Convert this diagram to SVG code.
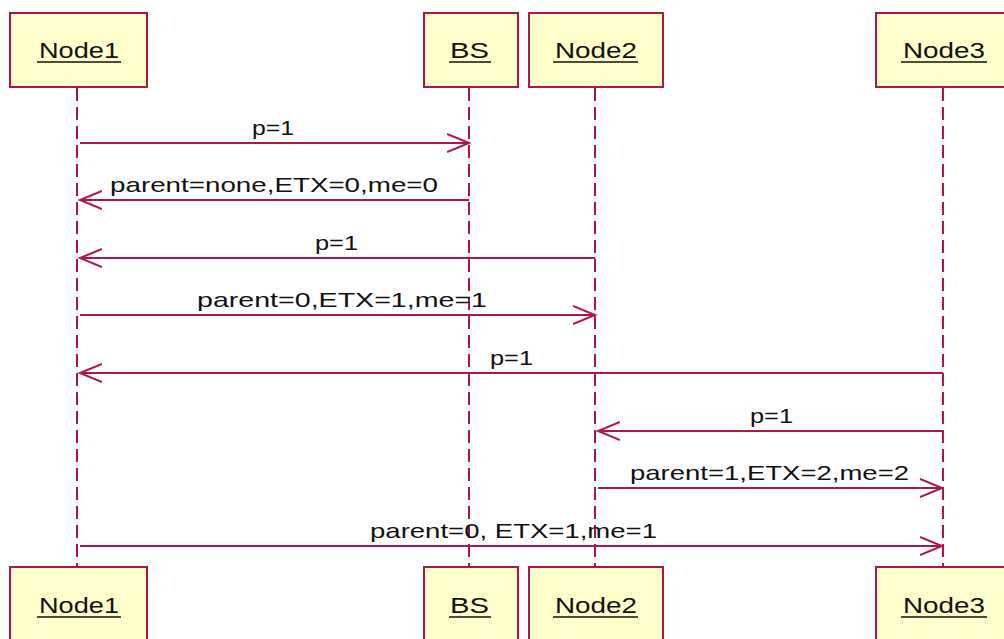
<svg xmlns="http://www.w3.org/2000/svg" width="1004" height="639" viewBox="0 0 1004 639">
<defs>
<style>
.box{fill:#FFFFCC;stroke:#B0154A;stroke-width:2}
.life{stroke:#B0154A;stroke-width:2;stroke-dasharray:13 6;fill:none}
.msg{stroke:#B0154A;stroke-width:2;fill:none;marker-end:url(#arr)}
.lbl{font-family:"Liberation Sans",Arial,sans-serif;font-size:22px;fill:#111111}
.mt{font-family:"Liberation Sans",Arial,sans-serif;font-size:21px;fill:#111111}
.ul{stroke:#111111;stroke-width:1.6}
</style>
<marker id="arr" markerUnits="userSpaceOnUse" markerWidth="26" markerHeight="22" refX="22" refY="10" orient="auto" viewBox="0 0 26 22">
<path d="M0,1 L22,10 L0,19" fill="none" stroke="#B0154A" stroke-width="2"/>
</marker>
</defs>
<rect width="1004" height="639" fill="#ffffff"/>
<g id="lifelines">
<line class="life" x1="77" y1="88" x2="77" y2="567"/>
<line class="life" x1="469" y1="88" x2="469" y2="567"/>
<line class="life" x1="595" y1="88" x2="595" y2="567"/>
<line class="life" x1="943" y1="88" x2="943" y2="567"/>
</g>
<g id="node1">
<rect class="box" x="10" y="13" width="137" height="74"/>
<text class="lbl" x="39" y="58" textLength="80" lengthAdjust="spacingAndGlyphs">Node1</text>
<line class="ul" x1="37" y1="62" x2="121" y2="62"/>
</g>
<g id="bs">
<rect class="box" x="424" y="13" width="94" height="74"/>
<text class="lbl" x="450" y="58" textLength="39" lengthAdjust="spacingAndGlyphs">BS</text>
<line class="ul" x1="449" y1="62" x2="491" y2="62"/>
</g>
<g id="node2">
<rect class="box" x="529" y="13" width="134" height="74"/>
<text class="lbl" x="555" y="58" textLength="82" lengthAdjust="spacingAndGlyphs">Node2</text>
<line class="ul" x1="553" y1="62" x2="638" y2="62"/>
</g>
<g id="node3">
<rect class="box" x="876" y="13" width="134" height="74"/>
<text class="lbl" x="903" y="58" textLength="82" lengthAdjust="spacingAndGlyphs">Node3</text>
<line class="ul" x1="901" y1="62" x2="987" y2="62"/>
</g>
<g id="node1-bottom">
<rect class="box" x="10" y="567" width="137" height="80"/>
<text class="lbl" x="39" y="613" textLength="80" lengthAdjust="spacingAndGlyphs">Node1</text>
<line class="ul" x1="37" y1="617" x2="121" y2="617"/>
</g>
<g id="bs-bottom">
<rect class="box" x="424" y="567" width="94" height="80"/>
<text class="lbl" x="450" y="613" textLength="39" lengthAdjust="spacingAndGlyphs">BS</text>
<line class="ul" x1="449" y1="617" x2="491" y2="617"/>
</g>
<g id="node2-bottom">
<rect class="box" x="529" y="567" width="134" height="80"/>
<text class="lbl" x="555" y="613" textLength="82" lengthAdjust="spacingAndGlyphs">Node2</text>
<line class="ul" x1="553" y1="617" x2="638" y2="617"/>
</g>
<g id="node3-bottom">
<rect class="box" x="876" y="567" width="134" height="80"/>
<text class="lbl" x="903" y="613" textLength="82" lengthAdjust="spacingAndGlyphs">Node3</text>
<line class="ul" x1="901" y1="617" x2="987" y2="617"/>
</g>
<g id="connectors">
<line class="msg" x1="80" y1="143" x2="469" y2="143"/>
<text class="mt" x="252" y="135" textLength="42" lengthAdjust="spacingAndGlyphs">p=1</text>
<line class="msg" x1="469" y1="200" x2="80" y2="200"/>
<text class="mt" x="110" y="192" textLength="328" lengthAdjust="spacingAndGlyphs">parent=none,ETX=0,me=0</text>
<line class="msg" x1="595" y1="258" x2="80" y2="258"/>
<text class="mt" x="315" y="250" textLength="43" lengthAdjust="spacingAndGlyphs">p=1</text>
<line class="msg" x1="80" y1="315" x2="595" y2="315"/>
<text class="mt" x="197" y="307" textLength="290" lengthAdjust="spacingAndGlyphs">parent=0,ETX=1,me=1</text>
<line class="msg" x1="943" y1="373" x2="80" y2="373"/>
<text class="mt" x="490" y="365" textLength="43" lengthAdjust="spacingAndGlyphs">p=1</text>
<line class="msg" x1="943" y1="431" x2="598" y2="431"/>
<text class="mt" x="750" y="423" textLength="43" lengthAdjust="spacingAndGlyphs">p=1</text>
<line class="msg" x1="598" y1="488" x2="942" y2="488"/>
<text class="mt" x="630" y="480" textLength="279" lengthAdjust="spacingAndGlyphs">parent=1,ETX=2,me=2</text>
<line class="msg" x1="80" y1="546" x2="942" y2="546"/>
<text class="mt" x="370" y="538" textLength="287" lengthAdjust="spacingAndGlyphs">parent=0, ETX=1,me=1</text>
</g>
</svg>
